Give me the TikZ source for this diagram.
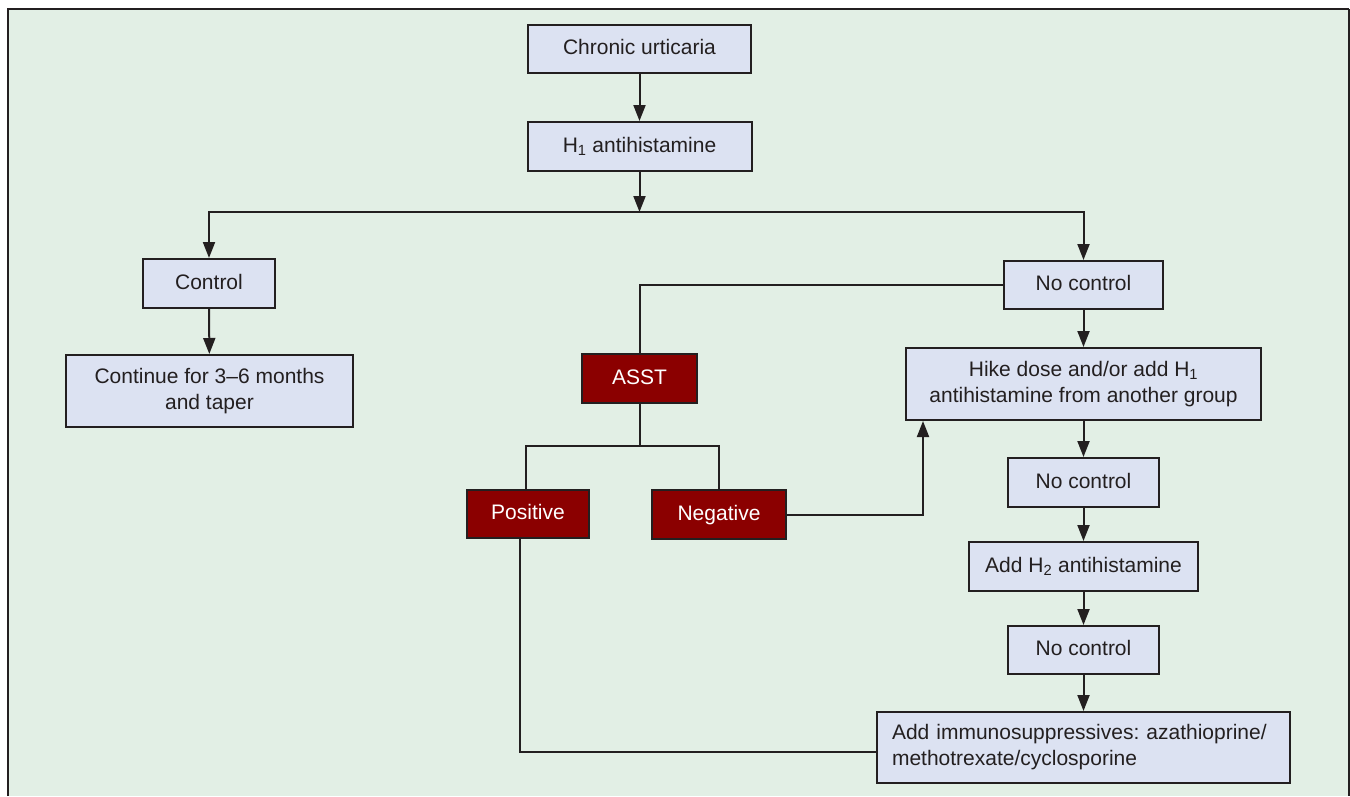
\documentclass[tikz,border=0pt]{standalone}
\usepackage{fontspec}
\setmainfont{Liberation Sans}
\frenchspacing
\usetikzlibrary{arrows.meta}
\definecolor{bggreen}{RGB}{226,239,229}
\definecolor{boxfill}{RGB}{220,226,242}
\definecolor{darkred}{RGB}{139,0,0}
\definecolor{inkcol}{RGB}{35,31,32}
\tikzset{
  flowbox/.style={draw=inkcol, line width=2pt, fill=boxfill, text=inkcol, inner sep=0pt,
    font=\fontsize{21}{26}\selectfont, align=center},
  oneline/.style={text height=15pt, text depth=4pt},
  redbox/.style={draw=inkcol, line width=2pt, fill=darkred, text=white, inner sep=0pt,
    font=\fontsize{21}{26}\selectfont, align=center, oneline},
  conn/.style={draw=inkcol, line width=2pt},
  arr/.style={conn, -{Triangle[length=16pt,width=12pt]}}
}
\begin{document}
\begin{tikzpicture}[x=1pt,y=-1pt]
\useasboundingbox (0,0) rectangle (1350,796);
\fill[bggreen] (8,9) rectangle (1349,796);
\draw[inkcol, line width=2.5pt] (8,796) -- (8,9) -- (1349,9);
\draw[inkcol, line width=1.5pt] (1349,9) -- (1349,796);

\node[flowbox, oneline, minimum width=223pt, minimum height=48pt] (cu) at (639.5,49) {Chronic urticaria};
\node[flowbox, oneline, minimum width=224pt, minimum height=49pt] (h1) at (639.5,146.5) {H\textsubscript{1} antihistamine};
\coordinate (split) at (639.5,212);
\node[flowbox, oneline, minimum width=132pt, minimum height=49pt] (ctrl) at (209,283.5) {Control};
\node[flowbox, minimum width=287pt, minimum height=72pt] (cont) at (209.5,391) {Continue for 3--6 months\\and taper};
\node[flowbox, oneline, minimum width=159pt, minimum height=48pt] (nc1) at (1083.5,285) {No control};
\node[redbox, minimum width=115pt, minimum height=49pt] (asst) at (639.5,378.5) {ASST};
\coordinate (aj) at (639.5,446);
\node[redbox, minimum width=122pt, minimum height=48pt] (pos) at (528,514) {Positive};
\node[redbox, minimum width=134pt, minimum height=49pt] (neg) at (719,514.5) {Negative};
\node[flowbox, minimum width=355pt, minimum height=72pt] (hike) at (1083.5,384) {Hike dose and/or add H\textsubscript{1}\\antihistamine from another group};
\node[flowbox, oneline, minimum width=151pt, minimum height=49pt] (nc2) at (1083.5,482.5) {No control};
\node[flowbox, oneline, minimum width=229pt, minimum height=49pt] (h2) at (1083.5,566.5) {Add H\textsubscript{2} antihistamine};
\node[flowbox, oneline, minimum width=151pt, minimum height=48pt] (nc3) at (1083.5,650) {No control};
\node[flowbox, text width=383pt, inner xsep=15pt, minimum height=71pt, align=left] (imm) at (1083.5,747.5) {Add immunosuppressives: azathioprine/\\methotrexate/cyclosporine};

\draw[arr] (cu) -- (h1);
\draw[arr] (h1.south) -- (split);
\draw[arr] (split) -| (ctrl.north);
\draw[arr] (split) -| (nc1.north);
\draw[arr] (ctrl) -- (cont);
\draw[conn] (nc1.west) -| (asst.north);
\draw[conn] (asst.south) -- (aj);
\draw[conn] (aj) -| ([xshift=-2pt]pos.north);
\draw[conn] (aj) -| (neg.north);
\draw[arr] (neg.east) -| ([xshift=18pt]hike.south west);
\draw[conn] ([xshift=-8pt]pos.south) |- ([yshift=-4.5pt]imm.west);
\draw[arr] (nc1) -- (hike);
\draw[arr] (hike) -- (nc2);
\draw[arr] (nc2) -- (h2);
\draw[arr] (h2) -- (nc3);
\draw[arr] (nc3) -- (imm);
\end{tikzpicture}
\end{document}
